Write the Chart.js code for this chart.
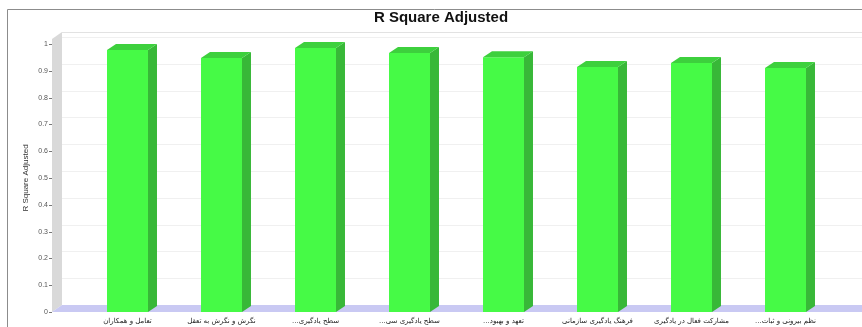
<!DOCTYPE html>
<html>
<head>
<meta charset="utf-8">
<script src="https://cdn.jsdelivr.net/npm/chart.js@4/dist/chart.umd.min.js"></script>
<style>
html, body { margin: 0; padding: 0; background: #fff; }
#wrap { position: relative; width: 862px; height: 327px; }
</style>
</head>
<body>
<div id="wrap"><canvas id="chart" width="862" height="327"></canvas></div>
<script>
// categories (Persian, as in the source chart)
var labels = [
  'تعامل و همکاران',
  'نگرش و نگرش به تعقل',
  'سطح یادگیری...\u200F',
  'سطح یادگیری سی...\u200F',
  'تعهد و بهبود...\u200F',
  'فرهنگ یادگیری سازمانی',
  'مشارکت فعال در یادگیری',
  'نظم بیرونی و ثبات...\u200F'
];
var values = [0.978, 0.948, 0.985, 0.966, 0.951, 0.914, 0.929, 0.91];
var titleText = 'R Square Adjusted';
var yTitle = 'R Square Adjusted';

// 3d offsets for walls and bars
var DX = 10, DY = 7, BDX = 9, BDY = 6;

var box3d = {
  id: 'box3d',
  beforeDraw: function(chart) {
    var ctx = chart.ctx, a = chart.chartArea, ys = chart.scales.y;
    var W = chart.width, H = chart.height;
    var L = a.left - 28.5, B = ys.getPixelForValue(0), T = a.top - 5;
    ctx.save();
    ctx.fillStyle = '#fff';
    ctx.fillRect(0, 0, W, H);

    // outer frame
    ctx.strokeStyle = '#8c8c8c';
    ctx.lineWidth = 1;
    ctx.beginPath();
    ctx.moveTo(7.5, H); ctx.lineTo(7.5, 9.5); ctx.lineTo(W, 9.5);
    ctx.stroke();

    // back wall grid
    ctx.strokeStyle = '#f0f0f0';
    ys.ticks.forEach(function(t) {
      if (t.value === 0) return;
      var y = Math.round(ys.getPixelForValue(t.value) - DY) + 0.5;
      ctx.beginPath(); ctx.moveTo(L + DX, y); ctx.lineTo(W, y); ctx.stroke();
    });
    // back wall top edge
    ctx.strokeStyle = '#e2e2e2';
    ctx.beginPath(); ctx.moveTo(L + DX, T - DY + 0.5); ctx.lineTo(W, T - DY + 0.5); ctx.stroke();

    // left wall
    ctx.fillStyle = '#d9d9d9';
    ctx.beginPath();
    ctx.moveTo(L, T); ctx.lineTo(L + DX, T - DY); ctx.lineTo(L + DX, B - DY); ctx.lineTo(L, B);
    ctx.closePath(); ctx.fill();

    // floor
    ctx.fillStyle = '#c9c9f3';
    ctx.beginPath();
    ctx.moveTo(L, B); ctx.lineTo(L + DX, B - DY); ctx.lineTo(W, B - DY); ctx.lineTo(W, B);
    ctx.closePath(); ctx.fill();

    // tick marks
    ctx.strokeStyle = '#777';
    ys.ticks.forEach(function(t) {
      var y = Math.round(ys.getPixelForValue(t.value)) + 0.5;
      ctx.beginPath(); ctx.moveTo(L - 3, y); ctx.lineTo(L, y); ctx.stroke();
    });
    ctx.restore();
  },
  afterDatasetsDraw: function(chart) {
    var ctx = chart.ctx;
    ctx.save();
    chart.getDatasetMeta(0).data.forEach(function(bar) {
      var p = bar.getProps(['x', 'y', 'base', 'width'], true);
      var x0 = p.x - p.width / 2, x1 = p.x + p.width / 2;
      // side
      ctx.fillStyle = '#38b838';
      ctx.beginPath();
      ctx.moveTo(x1, p.y); ctx.lineTo(x1 + BDX, p.y - BDY); ctx.lineTo(x1 + BDX, p.base - BDY); ctx.lineTo(x1, p.base);
      ctx.closePath(); ctx.fill();
      // top
      ctx.fillStyle = '#3dd03d';
      ctx.beginPath();
      ctx.moveTo(x0, p.y); ctx.lineTo(x0 + BDX, p.y - BDY); ctx.lineTo(x1 + BDX, p.y - BDY); ctx.lineTo(x1, p.y);
      ctx.closePath(); ctx.fill();
    });
    ctx.restore();
  }
};

function noPad(s) {
  s.paddingTop = 0; s.paddingBottom = 0; s.paddingLeft = 0; s.paddingRight = 0;
}

new Chart(document.getElementById('chart'), {
  type: 'bar',
  data: {
    labels: labels,
    datasets: [{
      label: 'R Square Adjusted',
      data: values,
      backgroundColor: '#46fa46',
      borderWidth: 0,
      barPercentage: 1,
      categoryPercentage: 0.436
    }]
  },
  plugins: [box3d],
  options: {
    responsive: false,
    animation: false,
    layout: { padding: { top: 9, right: 0, left: 20, bottom: 0 } },
    plugins: {
      legend: { display: false },
      tooltip: { enabled: false },
      title: {
        display: true, text: titleText, color: '#111',
        font: { family: 'Liberation Sans', size: 15, weight: 'bold' },
        padding: { top: 0, bottom: 17 }
      }
    },
    scales: {
      x: {
        grid: { display: false, drawTicks: false },
        border: { display: false },
        ticks: {
          color: '#222', maxRotation: 0, autoSkip: false, padding: 5,
          font: { family: 'DejaVu Sans', size: 7 }
        },
        afterFit: function(s) { s.height = 15; noPad(s); }
      },
      y: {
        min: 0, max: 1,
        grid: { display: false, drawTicks: false },
        border: { display: false },
        ticks: {
          stepSize: 0.1, color: '#555', padding: 32.5,
          font: { family: 'Liberation Sans', size: 7 },
          callback: function(v) { return String(Math.round(v * 10) / 10); }
        },
        title: {
          display: true, text: yTitle, color: '#333',
          font: { family: 'Liberation Sans', size: 8 },
          padding: { top: 0.5, bottom: 0 }
        },
        afterFit: function(s) { s.width = 60.5; noPad(s); }
      },
      y2: {
        position: 'right',
        display: true,
        grid: { display: false, drawTicks: false },
        border: { display: false },
        ticks: { display: false },
        afterFit: function(s) { s.width = 29.5; noPad(s); }
      }
    }
  }
});
</script>
</body>
</html>
